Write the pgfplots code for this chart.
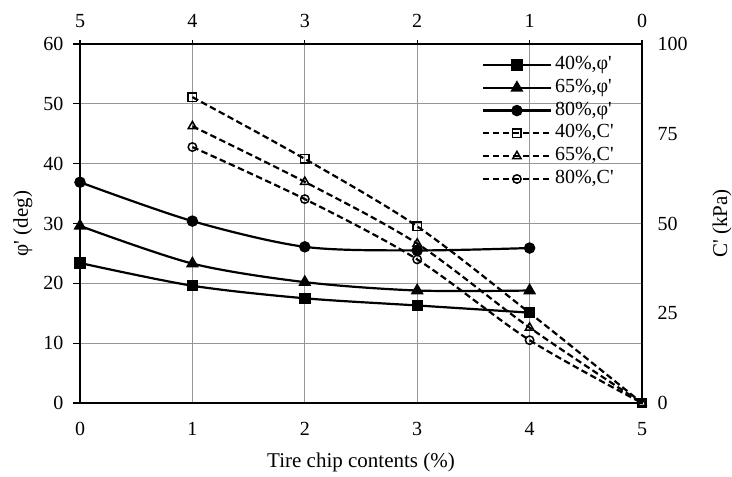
\documentclass[border=0pt]{standalone}
\usepackage{fontspec}
\setmainfont{Liberation Serif}[Ligatures=TeXOff]
\usepackage{pgfplots}
\pgfplotsset{compat=1.18}
\definecolor{gridgray}{RGB}{150,150,150}
\newcommand{\fs}{\fontsize{20bp}{23bp}\selectfont}
\newcommand{\fl}{\fontsize{21bp}{24bp}\selectfont}
\begin{document}
\begin{tikzpicture}
\pgfplotsset{
  myaxis/.style={
    scale only axis, width=562bp, height=359bp,
    at={(80bp,74bp)}, anchor=south west,
    xmin=0, xmax=5,
    axis line style={line width=1.8bp, black},
    tick label style={font=\fs},
    /pgf/number format/assume math mode=true,
    tick align=outside,
    major tick length=7bp,
    clip=false,
  },
  solidline/.style={black, line width=2.2bp, smooth, tension=0.5},
  dashline/.style={black, line width=2.2bp, dash pattern=on 6.5bp off 3.5bp, smooth, tension=0.5},
  openmark/.style={mark options={solid, line width=1.5bp}},
}
\begin{axis}[
  myaxis,
  ymin=0, ymax=60,
  xtick={0,1,2,3,4,5}, ytick={0,10,20,30,40,50,60},
  xtick pos=bottom, ytick pos=left,
  xtick style={draw=none},
  ytick style={line width=1.2bp, black},
  xticklabel style={yshift=-9bp},
  yticklabel style={xshift=-6bp},
  grid=major, grid style={gridgray, line width=1.3bp},
  xlabel={Tire chip contents (\%)},
  ylabel={φ' (deg)},
  every axis x label/.style={at={(axis description cs:0.5,-0.1643)}, anchor=center, font=\fl},
  every axis y label/.style={at={(axis description cs:-0.1015,0.5)}, rotate=90, anchor=center, font=\fl},
  legend cell align=left,
  legend style={draw=none, fill=none, inner sep=0pt, outer sep=0pt,
    at={(axis description cs:0.715,0.968)}, anchor=north west,
    font=\fs,
    nodes={inner ysep=0pt, inner xsep=3bp, text height=14bp, text depth=5bp},
    row sep=3.8bp},
  legend image code/.code={
    \draw[mark repeat=2, mark phase=2, #1] plot coordinates {(0bp,0bp) (34bp,0bp) (68bp,0bp)};
  },
]
\addplot[solidline, mark=square*, mark size=4.6bp, mark options={solid}] coordinates {
  (0,23.4) (1,19.6) (2,17.5) (3,16.3) (4,15.1)};
\addlegendentry{40\%,φ'}
\addplot[solidline, mark=triangle*, mark size=5.3bp, mark options={solid}] coordinates {
  (0,29.6) (1,23.3) (2,20.2) (3,18.8) (4,18.8)};
\addlegendentry{65\%,φ'}
\addplot[solidline, mark=*, mark size=4.6bp, mark options={solid}] coordinates {
  (0,36.9) (1,30.4) (2,26.1) (3,25.5) (4,25.9)};
\addlegendentry{80\%,φ'}
\addlegendimage{dashline, mark=square, mark size=4.2bp, openmark}
\addlegendentry{40\%,C'}
\addlegendimage{dashline, mark=triangle, mark size=4.8bp, openmark}
\addlegendentry{65\%,C'}
\addlegendimage{dashline, mark=o, mark size=4.2bp, openmark}
\addlegendentry{80\%,C'}
\end{axis}
\begin{axis}[
  myaxis,
  ymin=0, ymax=100,
  xtick={0,1,2,3,4,5}, xticklabels={5,4,3,2,1,0},
  ytick={0,25,50,75,100},
  xtick pos=top, ytick pos=right,
  xticklabel pos=top, yticklabel pos=right,
  xtick style={line width=1.2bp, black},
  major tick length=4bp,
  ytick style={draw=none},
  xticklabel style={yshift=9bp},
  yticklabel style={xshift=8bp},
  ylabel={C' (kPa)},
  every axis y label/.style={at={(axis description cs:1.1423,0.5)}, rotate=90, anchor=center, font=\fl},
]
\addplot[dashline, mark=square, mark size=4.2bp, openmark] coordinates {
  (1,85.2) (2,68.0) (3,49.2) (4,25.1) (5,0)};
\addplot[dashline, mark=triangle, mark size=4.8bp, openmark] coordinates {
  (1,77.1) (2,61.6) (3,44.4) (4,21.0) (5,0)};
\addplot[dashline, mark=o, mark size=4.2bp, openmark] coordinates {
  (1,71.3) (2,56.8) (3,40.0) (4,17.5) (5,0)};
\end{axis}
\pgfresetboundingbox
\path[use as bounding box] (0,0) rectangle (732bp,477bp);
\end{tikzpicture}
\end{document}
